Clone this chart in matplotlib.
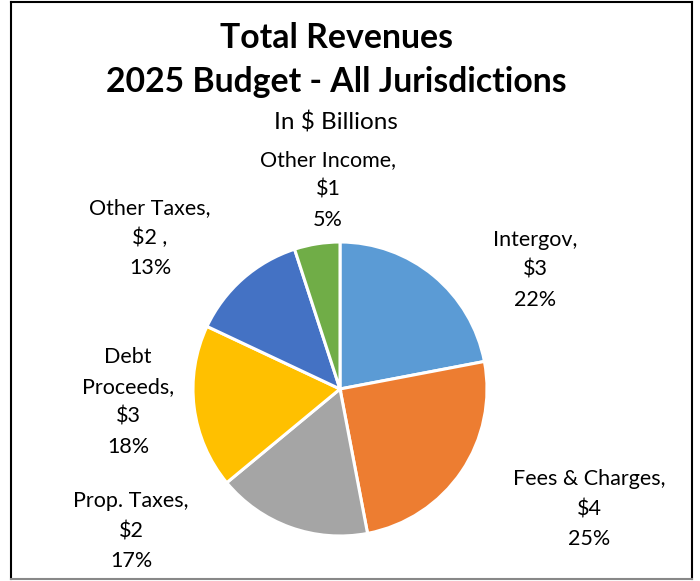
import matplotlib
matplotlib.use("Agg")
import matplotlib.pyplot as plt
from matplotlib.lines import Line2D

# Revenue categories, dollar amounts (billions) and shares
categories = ["Intergov", "Fees & Charges", "Prop. Taxes", "Debt Proceeds", "Other Taxes", "Other Income"]
dollars = ["$3", "$4", "$2", "$3", "$2 ,", "$1"]
shares = [22, 25, 17, 18, 13, 5]
colors = ["#5B9BD5", "#ED7D31", "#A5A5A5", "#FFC000", "#4472C4", "#70AD47"]

# Label text (category name may wrap) and label anchor positions in pixels
label_names = ["Intergov,", "Fees & Charges,", "Prop. Taxes,", "Debt\nProceeds,", "Other Taxes,", "Other Income,"]
label_px = [(535, 270), (589, 509), (131, 531), (128, 402), (150, 238), (328, 190)]

W, H = 700, 581
plt.rcParams["font.family"] = ["Lato", "DejaVu Sans"]
fig = plt.figure(figsize=(W / 100, H / 100), dpi=100)
fig.patch.set_facecolor("white")

cx, cy, r = 340, 389, 147
ax = fig.add_axes([(cx - r) / W, (H - cy - r) / H, 2 * r / W, 2 * r / H])
ax.pie(shares, colors=colors, startangle=90, counterclock=False, radius=1,
       wedgeprops=dict(edgecolor="white", linewidth=2.2))
ax.set_xlim(-1, 1)
ax.set_ylim(-1, 1)
ax.set_aspect("equal")
ax.axis("off")

# Titles
fig.text(336 / W, 1 - 38 / H, "Total Revenues", ha="center", va="center",
         fontsize=24.3, fontweight="bold")
fig.text(336 / W, 1 - 82 / H, "2025 Budget - All Jurisdictions", ha="center", va="center",
         fontsize=24.3, fontweight="bold")
fig.text(336 / W, 1 - 122 / H, "In $ Billions", ha="center", va="center", fontsize=17.5)

# Data labels
for name, dol, pct, (x, y) in zip(label_names, dollars, shares, label_px):
    fig.text(x / W, 1 - y / H, f"{name}\n{dol}\n{pct}%", ha="center", va="center",
             fontsize=15.5, linespacing=1.62)

# Chart border
x0, x1, y0, y1 = 10.5 / W, 692 / W, 1 - 2 / H, 1 - 579 / H
for xs, ys, c in [([x0, x0], [y0, y1], "black"), ([x0, x1], [y0, y0], "black"),
                  ([x1, x1], [y0, y1], "black"), ([x0, x1], [y1, y1], "#888888")]:
    fig.add_artist(Line2D(xs, ys, transform=fig.transFigure, color=c, linewidth=1.5))

fig.savefig("out.png", dpi=100, facecolor="white")
